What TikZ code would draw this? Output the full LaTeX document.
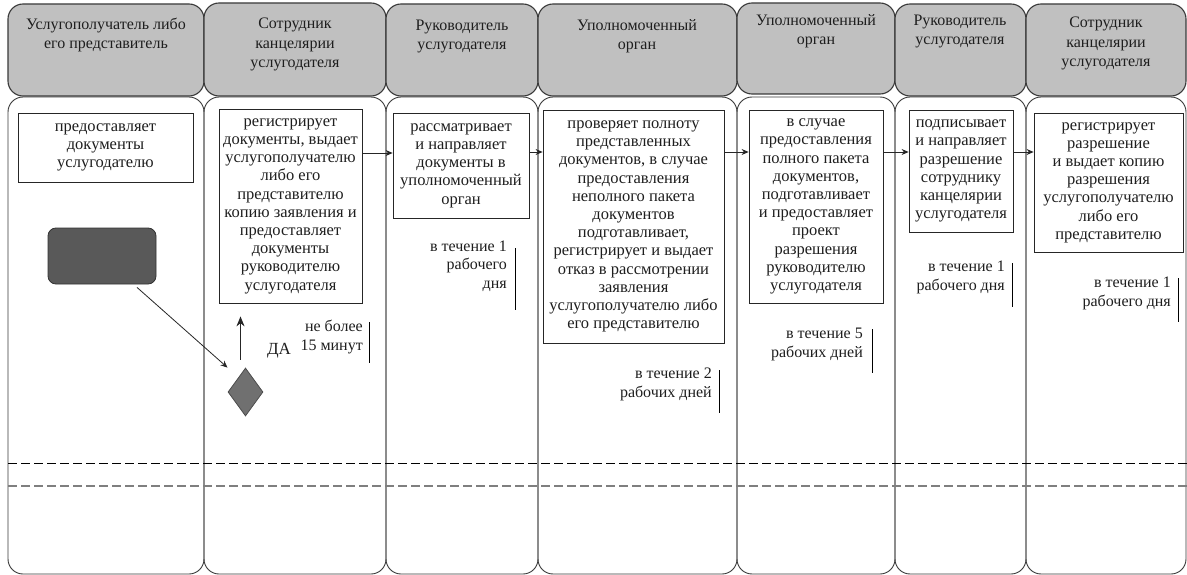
\documentclass[tikz,border=0pt]{standalone}
\usepackage{fontspec}
\setmainfont{Liberation Serif}
\usetikzlibrary{arrows.meta,shapes.geometric}
\definecolor{headgray}{HTML}{C0C0C0}
\definecolor{linegray}{HTML}{3A3A3A}
\definecolor{startgray}{HTML}{595959}
\definecolor{diagray}{HTML}{707070}
\definecolor{dashgray}{HTML}{7F7F7F}
\definecolor{txt}{HTML}{1E1E1E}
\begin{document}
\begin{tikzpicture}[x=1pt,y=-1pt,
  lanehead/.style={draw=linegray, fill=headgray, line width=1.1pt, rounded corners=15pt},
  lanebody/.style={draw=linegray, line width=0.9pt, rounded corners=15pt},
  headtxt/.style={align=center, anchor=base, inner sep=0pt, text=txt, font=\fontsize{16}{19.5}\selectfont},
  stepbox/.style={draw=black!85, line width=0.8pt, inner sep=0pt, align=center, text=txt,
    font=\fontsize{16.5}{18.2}\selectfont},
  timetxt/.style={align=right, anchor=base east, inner sep=0pt, text=txt, font=\fontsize{16}{18.4}\selectfont},
  bar/.style={draw=black, line width=0.9pt},
  flow/.style={-{Stealth[length=7pt,width=6pt]}, line width=0.8pt, draw=black!85},
  upflow/.style={-{Stealth[length=10pt,width=8pt]}, line width=1pt, draw=black!85}
]
\useasboundingbox (0,0) rectangle (1187,575);
\fill[white] (0,0) rectangle (1187,575);

% lane bodies
\draw[lanebody] (8,97) rectangle (204,574);
\draw[lanebody] (204,97) rectangle (386,574);
\draw[lanebody] (386,97) rectangle (538,574);
\draw[lanebody] (538,97) rectangle (737,574);
\draw[lanebody] (737,97) rectangle (895,574);
\draw[lanebody] (895,97) rectangle (1026,574);
\draw[lanebody] (1026,97) rectangle (1186,574);

% dashed separators
\draw[black, line width=1pt, dash pattern=on 9pt off 4pt] (8,463) -- (1187,463);
\draw[dashgray, line width=2pt, dash pattern=on 9pt off 4pt] (8,486) -- (1187,486);

% lane headers
\draw[lanehead] (8,4) rectangle (204,96);
\draw[lanehead] (204,3) rectangle (386,96);
\draw[lanehead] (386,4) rectangle (538,96);
\draw[lanehead] (538,4) rectangle (737,96);
\draw[lanehead] (737,3) rectangle (895,94);
\draw[lanehead] (895,4) rectangle (1026,96);
\draw[lanehead] (1026,4) rectangle (1186,96);

% header titles (anchor = baseline of the last line)
\node[headtxt] (h1) at (106,49) {Услугополучатель либо\\его представитель};
\node[headtxt] (h2) at (295,68) {Сотрудник\\канцелярии\\услугодателя};
\node[headtxt] (h3) at (462,50) {Руководитель\\услугодателя};
\node[headtxt] (h4) at (637,50) {Уполномоченный\\орган};
\node[headtxt] (h5) at (816,45) {Уполномоченный\\орган};
\node[headtxt] (h6) at (960,45) {Руководитель\\услугодателя};
\node[headtxt] (h7) at (1106,67) {Сотрудник\\канцелярии\\услугодателя};

% step boxes
\node[stepbox, minimum width=175pt, minimum height=69pt] (b1) at (105.5,147.5)
  {предоставляет\\документы\\услугодателю};
\node[stepbox, minimum width=143pt, minimum height=194pt] (b2) at (290.5,206)
  {регистрирует\\документы, выдает\\услугополучателю\\либо его\\представителю\\копию заявления и\\предоставляет\\документы\\руководителю\\услугодателя};
\node[stepbox, minimum width=136pt, minimum height=105pt] (b3) at (461,165.5)
  {рассматривает\\и направляет\\документы в\\уполномоченный\\орган};
\node[stepbox, minimum width=181pt, minimum height=233pt] (b4) at (633.5,226.5)
  {проверяет полноту\\представленных\\документов, в случае\\предоставления\\неполного пакета\\документов\\подготавливает,\\регистрирует и выдает\\отказ в рассмотрении\\заявления\\услугополучателю либо\\его представителю};
\node[stepbox, minimum width=134pt, minimum height=193pt] (b5) at (816,206.5)
  {в случае\\предоставления\\полного пакета\\документов,\\подготавливает\\и предоставляет\\проект\\разрешения\\руководителю\\услугодателя};
\node[stepbox, minimum width=104pt, minimum height=122pt] (b6) at (961,171)
  {подписывает\\и направляет\\разрешение\\сотруднику\\канцелярии\\услугодателя};
\node[stepbox, minimum width=149pt, minimum height=139pt] (b7) at (1108.5,182.5)
  {регистрирует\\разрешение\\и выдает копию\\разрешения\\услугополучателю\\либо его\\представителю};

% start and decision
\node[draw=black!80, fill=startgray, rounded corners=8pt, line width=0.8pt,
  minimum width=108pt, minimum height=56pt, inner sep=0pt] (start) at (102,256) {};
\node[diamond, draw=black!70, fill=diagray, line width=0.8pt, inner sep=0pt,
  minimum width=35pt, minimum height=48pt] (dec) at (245.5,392) {};

\coordinate (s1) at ([xshift=35pt,yshift=-3pt]start.south);
\coordinate (d1) at ([xshift=-18pt]dec.north);
\draw[flow] (s1) -- (d1);
\coordinate (d2) at ([xshift=-5pt,yshift=8pt]dec.north);
\coordinate (u2) at ([xshift=-50pt,yshift=-13pt]b2.south);
\draw[upflow] (d2) -- (u2);

\node[inner sep=0pt, anchor=base, text=txt, font=\fontsize{17}{18}\selectfont] (da) at (279,354) {ДА};

% horizontal flow arrows
\draw[flow] (b2.east |- 0,153) -- (b3.west |- 0,153);
\draw[flow] (b3.east |- 0,152) -- (b4.west |- 0,152);
\draw[flow] (b4.east |- 0,152) -- (b5.west |- 0,152);
\draw[flow] (b5.east |- 0,152) -- (b6.west |- 0,152);
\draw[flow] (b6.east |- 0,152) -- (b7.west |- 0,152);

% timing labels (anchor = baseline of the last line)
\node[timetxt] (t2) at (363,350) {не более\\15 минут};
\draw[bar] (369,322) -- (369,363);
\node[timetxt] (t3) at (507,288) {в течение 1\\рабочего\\дня};
\draw[bar] (515,248) -- (515,310);
\node[timetxt] (t4) at (712,397) {в течение 2\\рабочих дней};
\draw[bar] (719,370) -- (719,413);
\node[timetxt] (t5) at (863,357) {в течение 5\\рабочих дней};
\draw[bar] (872,329) -- (872,373);
\node[timetxt] (t6) at (1005,290) {в течение 1\\рабочего дня};
\draw[bar] (1012,263) -- (1012,307);
\node[timetxt] (t7) at (1171,306) {в течение 1\\рабочего дня};
\draw[bar] (1178,278) -- (1178,322);
\end{tikzpicture}
\end{document}
